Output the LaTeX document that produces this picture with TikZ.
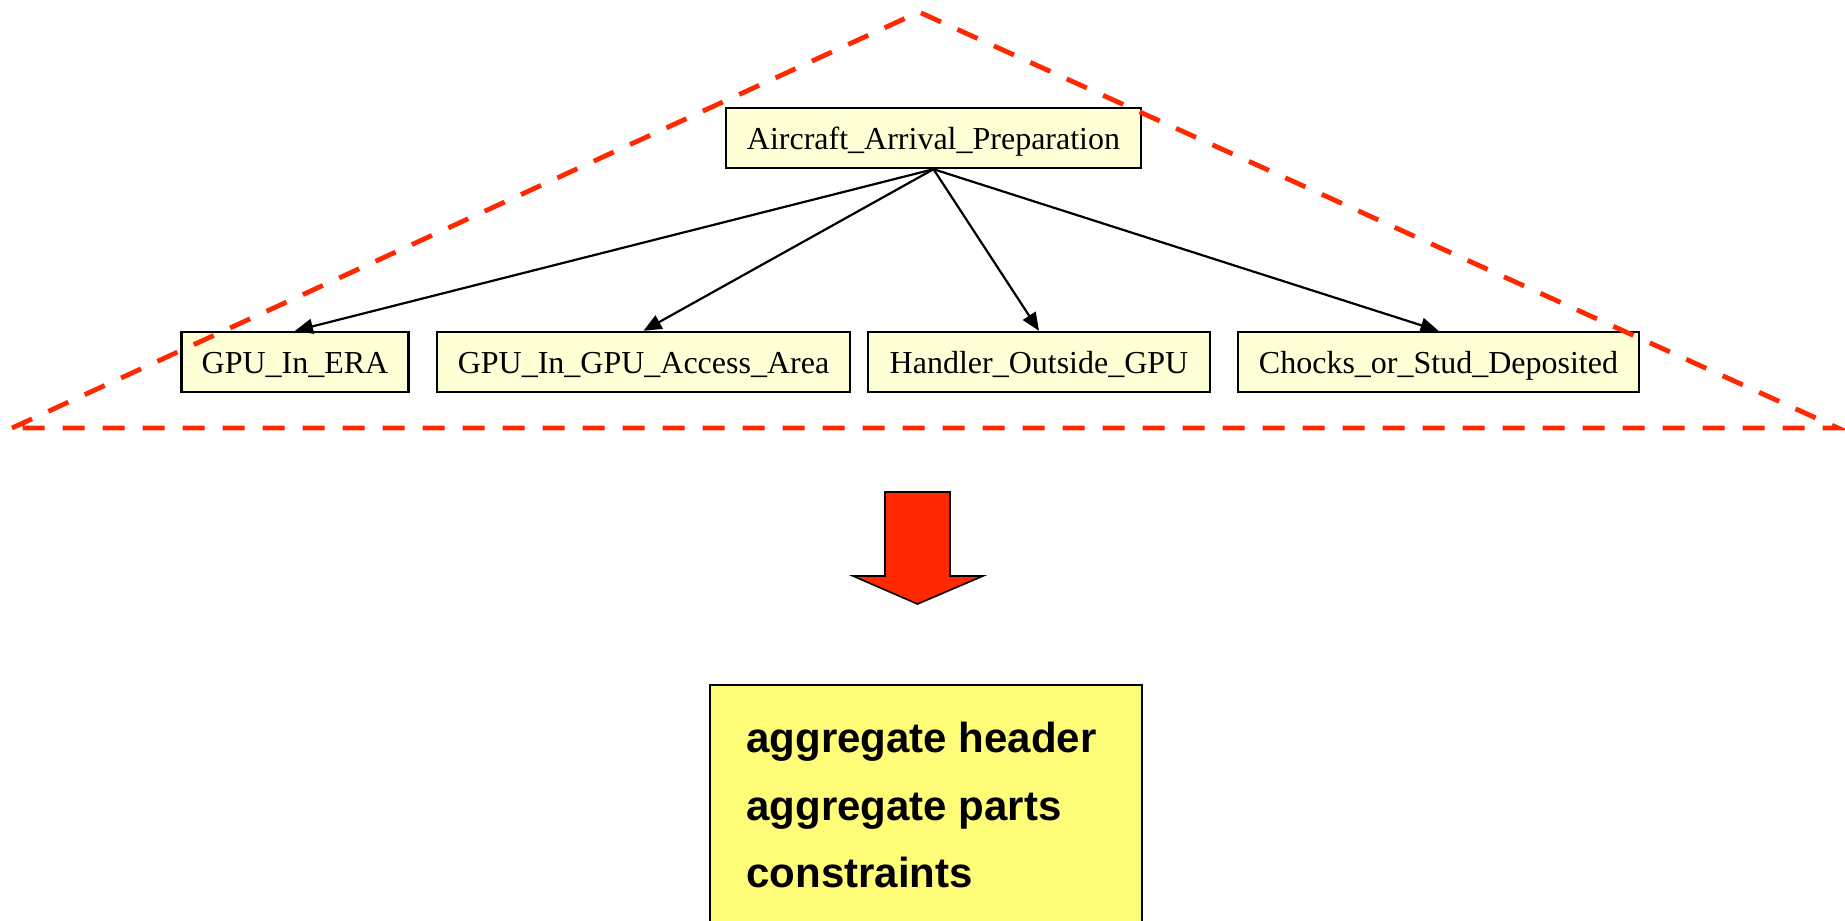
\documentclass[tikz,border=0pt]{standalone}
\usepackage{fontspec}
\setmainfont{Liberation Serif}
\setsansfont{Liberation Sans}
\usetikzlibrary{arrows.meta}
\definecolor{leafyellow}{RGB}{255,255,214}
\definecolor{aggyellow}{RGB}{255,252,120}
\definecolor{dashred}{RGB}{255,40,0}
\tikzset{
  leaf/.style={draw, line width=1.2pt, fill=leafyellow, inner sep=0pt,
    minimum height=30pt, text height=13pt, text depth=2pt,
    font=\fontsize{16}{19}\selectfont},
  edge/.style={line width=1.1pt, -{Triangle[length=9pt,width=7.5pt]}},
  aggline/.style={anchor=base west, inner sep=0pt,
    font=\fontsize{21}{25}\selectfont\sffamily\bfseries}
}
\begin{document}
\begin{tikzpicture}[x=0.5pt,y=-0.5pt]
\clip (0,0) rectangle (1845,920);
\newcommand{\leafbox}[4]{
  \node[leaf, minimum width=#3] (#1) at (#2,362) {#4};
}

% the aggregate tree
\node[leaf, minimum width=207.5pt] (app) at (933.5,138) {Aircraft\_Arrival\_Preparation};
\leafbox{era}{295}{113.5pt}{GPU\_In\_ERA}
\leafbox{access}{643.5}{206.5pt}{GPU\_In\_GPU\_Access\_Area}
\leafbox{handler}{1039}{171pt}{Handler\_Outside\_GPU}
\leafbox{chocks}{1438.5}{200.5pt}{Chocks\_or\_Stud\_Deposited}
\foreach \c in {era,access,handler,chocks} {
  \draw[edge] (app.south) -- (\c.north);
}

%dashed triangle round it:
\draw[dashred, line width=2.4pt, dash pattern=on 11pt off 9pt]
  (12,428) -- (919,12) -- (1838,428) -- cycle;

% big red arrow
\draw[fill=dashred, line width=0.8pt]
  (885,492) -- (950,492) -- (950,576) -- (983,576) -- (917.5,604)
  -- (853,576) -- (885,576) -- cycle;

% result box
\node[draw, line width=1.1pt, fill=aggyellow, inner sep=0pt, anchor=north west,
  minimum width=216pt, minimum height=150pt] (agg) at (709,684) {};
\foreach \txt/\y [count=\i] in {aggregate header/752, aggregate parts/820, constraints/887} {
  \node[aggline] (line\i) at (746,\y) {\txt};
}
\end{tikzpicture}
\end{document}
